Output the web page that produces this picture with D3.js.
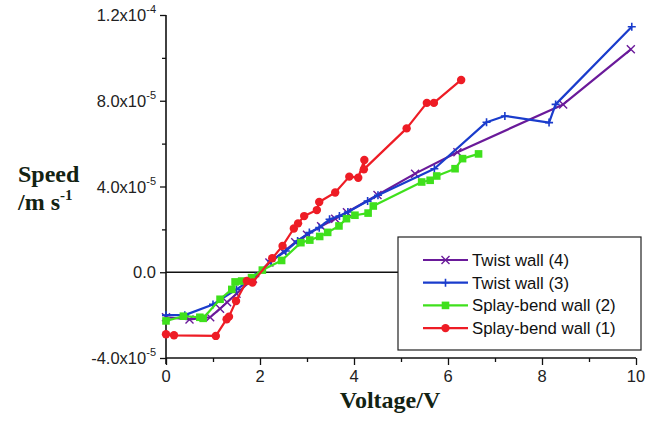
<!DOCTYPE html>
<html>
<head>
<meta charset="utf-8">
<script src="https://cdn.jsdelivr.net/npm/d3@7"></script>
<style>
  body{margin:0;background:#fff;}
  svg text{font-family:"Liberation Sans",Arial,sans-serif;}
</style>
</head>
<body>
<svg id="chart"></svg>
<script>
// speed vs voltage for the four walls

// voltage in V, speed in units of 1e-5 m/s
var twist4V = [0, 0.5, 0.94, 1.15, 1.3, 1.5, 1.85, 2.2, 2.5, 2.75, 3.0, 3.3, 3.6, 3.85, 4.5, 5.3, 6.2, 8.45, 9.89];
var twist4S = [-2.1, -2.2, -2.1, -1.7, -1.4, -1.0, -0.3, 0.45, 0.95, 1.4, 1.75, 2.15, 2.5, 2.8, 3.6, 4.6, 5.6, 7.83, 10.4];

var twist3V = [0, 0.4, 1.0, 1.5, 1.9, 2.24, 2.55, 2.8, 3.05, 3.26, 3.48, 3.69, 3.87, 4.29, 4.51, 5.71, 6.82, 7.21, 8.15, 8.29, 9.91];
var twist3S = [-2.0, -2.0, -1.5, -0.8, -0.2, 0.53, 0.99, 1.46, 1.85, 2.08, 2.47, 2.62, 2.81, 3.32, 3.59, 4.83, 7.0, 7.29, 6.98, 7.83, 11.45];

var splay2V = [0, 0.37, 0.72, 0.79, 1.15, 1.4, 1.47, 1.61, 1.82, 2.05, 2.46, 2.87, 3.06, 3.27, 3.44, 3.68, 3.84, 4.02, 4.3, 4.41, 5.44, 5.62, 5.76, 6.15, 6.31, 6.65];
var splay2S = [-2.27, -2.05, -2.1, -2.15, -1.26, -0.8, -0.45, -0.41, -0.25, 0.1, 0.55, 1.38, 1.5, 1.67, 1.86, 2.16, 2.5, 2.66, 2.76, 3.09, 4.21, 4.29, 4.49, 4.83, 5.3, 5.52];

var splay1V = [0, 0.17, 1.06, 1.29, 1.34, 1.49, 1.72, 1.84, 2.26, 2.48, 2.72, 2.81, 2.94, 3.21, 3.26, 3.6, 3.9, 4.09, 4.22, 4.21, 5.12, 5.55, 5.7, 6.28];
var splay1S = [-2.89, -2.94, -2.97, -2.19, -2.07, -1.34, -0.41, -0.48, 0.65, 1.23, 2.04, 2.28, 2.62, 2.9, 3.28, 3.72, 4.46, 4.41, 5.24, 4.8, 6.71, 7.9, 7.9, 8.97];

var seriesNames = ["Twist wall (4)", "Twist wall (3)", "Splay-bend wall (2)", "Splay-bend wall (1)"];
var seriesColors = ["#6a1a9a", "#1a3ccc", "#3fe01c", "#ee1c25"];
var seriesMarks = ["x", "plus", "square", "circle"];

var xTicks = [0, 2, 4, 6, 8, 10];
var yTicks = [-4, 0, 4, 8, 12];
var yTickBase = ["-4.0x10", "0.0", "4.0x10", "8.0x10", "1.2x10"];
var yTickExp = ["-5", "", "-5", "-5", "-4"];

var width = 667, height = 431;
var svg = d3.select('svg#chart').attr('width', width).attr('height', height);

var x = d3.scaleLinear().domain([0, 10]).range([166, 636]);
var y = d3.scaleLinear().domain([-4, 12]).range([358, 15]);

var zip = function(vs, ss){ return vs.map(function(v, i){ return [v, ss[i]]; }); };
var allSeries = [zip(twist4V, twist4S), zip(twist3V, twist3S), zip(splay2V, splay2S), zip(splay1V, splay1S)];

// axes
var xAxis = d3.axisBottom(x).tickValues(d3.range(0, 11, 1)).tickSize(6).tickFormat('');
var yAxis = d3.axisLeft(y).tickValues(d3.range(-4, 13, 2)).tickSize(5).tickFormat('');

var gx = svg.append('g').attr('transform', 'translate(0,' + y(-4) + ')').call(xAxis);
var gy = svg.append('g').attr('transform', 'translate(' + x(0) + ',0)').call(yAxis);
gx.select('.domain').attr('d', 'M' + x(0) + ',0H' + x(10)).attr('stroke', '#111').attr('stroke-width', 1.6);
gy.select('.domain').attr('d', 'M0,' + y(12) + 'V' + (y(-4) + 6)).attr('stroke', '#111').attr('stroke-width', 1.6);
gx.selectAll('.tick line').attr('stroke', '#111').attr('stroke-width', 1.3)
  .attr('y2', function(d){ return d % 2 === 0 ? 7 : 4; });
gy.selectAll('.tick line').attr('stroke', '#111').attr('stroke-width', 1.3)
  .attr('x2', function(d){ return d % 4 === 0 ? -6 : -4; });

// tick labels
svg.append('g').selectAll('text').data(xTicks).enter().append('text')
  .attr('x', function(d){ return x(d); })
  .attr('y', 382)
  .attr('text-anchor', 'middle')
  .style('font-size', '16.5px')
  .attr('fill', '#222')
  .text(function(d){ return d; });

var yl = svg.append('g').selectAll('text').data(yTicks).enter().append('text')
  .attr('x', 156)
  .attr('y', function(d){ return y(d) + 6; })
  .attr('text-anchor', 'end')
  .style('font-size', '16.5px')
  .attr('fill', '#222');
yl.append('tspan').text(function(d, i){ return yTickBase[i]; });
yl.append('tspan').attr('dy', -8).style('font-size', '11px').text(function(d, i){ return yTickExp[i]; });

// zero line
svg.append('line')
  .attr('x1', x(0)).attr('x2', x(10))
  .attr('y1', y(0)).attr('y2', y(0))
  .attr('stroke', '#111').attr('stroke-width', 1.6);

// axis titles
var serif = '"Liberation Serif","Times New Roman",serif';
svg.append('text').attr('x', 18).attr('y', 182)
  .style('font-family', serif)
  .style('font-weight', 'bold').style('font-size', '24px').attr('fill', '#132313')
  .text('Speed');
var unit = svg.append('text').attr('x', 18).attr('y', 210)
  .style('font-family', serif)
  .style('font-weight', 'bold').style('font-size', '24px').attr('fill', '#132313');
unit.append('tspan').text('/m s');
unit.append('tspan').attr('dy', -10).style('font-size', '15px').text('-1');

svg.append('text').attr('x', 390).attr('y', 408).attr('text-anchor', 'middle')
  .style('font-family', serif)
  .style('font-weight', 'bold').style('font-size', '24px').attr('fill', '#132313')
  .text('Voltage/V');

function drawMark(g, kind, color){
  if(kind === 'circle'){
    g.append('circle').attr('r', 4.2).attr('fill', color);
  } else if(kind === 'square'){
    g.append('rect').attr('x', -3.8).attr('y', -3.8).attr('width', 7.6).attr('height', 7.6).attr('fill', color);
  } else if(kind === 'plus'){
    g.append('path').attr('d', 'M-4,0H4M0,-4V4').attr('stroke', color).attr('stroke-width', 1.6);
  } else {
    g.append('path').attr('d', 'M-4,-4L4,4M-4,4L4,-4').attr('stroke', color).attr('stroke-width', 1.4);
  }
}

var line = d3.line().x(function(d){ return x(d[0]); }).y(function(d){ return y(d[1]); });

allSeries.forEach(function(data, i){
  var g = svg.append('g');
  g.append('path').datum(data)
    .attr('d', line)
    .attr('fill', 'none')
    .attr('stroke', seriesColors[i])
    .attr('stroke-width', 2.2)
    .attr('stroke-linejoin', 'round');
  g.selectAll('g.pt').data(data).enter().append('g')
    .attr('class', 'pt')
    .attr('transform', function(d){ return 'translate(' + x(d[0]) + ',' + y(d[1]) + ')'; })
    .each(function(){ drawMark(d3.select(this), seriesMarks[i], seriesColors[i]); });
});

// legend
var legend = svg.append('g');
legend.append('rect').attr('x', 398).attr('y', 237).attr('width', 243).attr('height', 113)
  .attr('fill', '#fff').attr('stroke', '#222').attr('stroke-width', 1.2);
seriesNames.forEach(function(name, i){
  var ly = 260 + i * 22.7;
  legend.append('line').attr('x1', 423).attr('x2', 468).attr('y1', ly).attr('y2', ly)
    .attr('stroke', seriesColors[i]).attr('stroke-width', 2.2);
  var m = legend.append('g').attr('transform', 'translate(445.5,' + ly + ')');
  drawMark(m, seriesMarks[i], seriesColors[i]);
  legend.append('text').attr('x', 472).attr('y', ly + 6)
    .style('font-size', '16.8px').attr('fill', '#111')
    .text(name);
});
</script>
</body>
</html>
